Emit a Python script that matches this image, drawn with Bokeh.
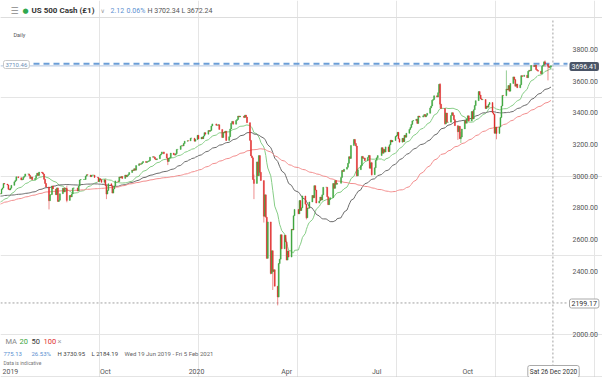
import pandas as pd
import numpy as np
from bokeh.plotting import figure
from bokeh.models import Range1d, FixedTicker, Span, Label, ColumnDataSource, NumeralTickFormatter, LinearAxis
from bokeh.embed import file_html
from bokeh.resources import INLINE

# ---------------- data (daily closes) ----------------
c_2019_01 = [2510, 2448, 2532, 2550, 2575, 2585, 2597, 2596, 2583, 2610, 2616, 2636, 2671, 2633, 2638, 2643, 2665, 2644, 2640, 2681, 2704]
c_2019_02 = [2707, 2724, 2737, 2732, 2706, 2708, 2709, 2744, 2754, 2746, 2776, 2780, 2784, 2775, 2793, 2796, 2793, 2792, 2784]
c_2019_03 = [2804, 2792, 2789, 2771, 2749, 2743, 2784, 2792, 2811, 2808, 2822, 2833, 2832, 2824, 2855, 2801, 2798, 2818, 2805, 2815, 2834]
c_2019_04 = [2867, 2868, 2873, 2879, 2892, 2895, 2878, 2888, 2888, 2907, 2905, 2908, 2900, 2905, 2907, 2934, 2927, 2926, 2940, 2943, 2946]
c_2019_05 = [2924, 2917, 2946, 2932, 2884, 2880, 2871, 2881, 2812, 2834, 2851, 2876, 2860, 2840, 2864, 2857, 2822, 2826, 2802, 2783, 2788, 2752]
c_2019_06 = [2744, 2803, 2826, 2843, 2873, 2886, 2885, 2879, 2891, 2887, 2889, 2917, 2926, 2954, 2950, 2945, 2917, 2913, 2924, 2942]
c_2019_07 = [2964, 2973, 2996, 2990, 2976, 2979, 2993, 3000, 3014, 3014, 3004, 2985, 2995, 2977, 2986, 3005, 3019, 3004, 3026, 3021, 3013, 2980]
c_2019_08 = [2954, 2932, 2845, 2882, 2884, 2938, 2919, 2883, 2926, 2840, 2848, 2889, 2924, 2900, 2924, 2922, 2847, 2878, 2869, 2888, 2924, 2926]
c_2019_09 = [2906, 2938, 2976, 2979, 2979, 2979, 3000, 3009, 3007, 2997, 3006, 3006, 3006, 2992, 2991, 2966, 2984, 2977, 2961, 2977]
c_2019_10 = [2940, 2887, 2910, 2952, 2938, 2893, 2919, 2938, 2970, 2966, 2995, 2990, 2998, 2986, 3007, 2996, 3004, 3010, 3023, 3039, 3036, 3047, 3038]
c_2019_11 = [3067, 3078, 3075, 3077, 3085, 3093, 3087, 3091, 3094, 3097, 3120, 3123, 3120, 3108, 3104, 3110, 3133, 3140, 3153, 3141]
c_2019_12 = [3114, 3093, 3113, 3117, 3146, 3136, 3133, 3142, 3169, 3169, 3191, 3192, 3191, 3206, 3221, 3224, 3223, 3240, 3240, 3221, 3231]
c_2020_01 = [3258, 3235, 3246, 3237, 3253, 3275, 3265, 3288, 3283, 3289, 3317, 3330, 3321, 3322, 3325, 3295, 3244, 3276, 3273, 3284, 3226]
c_2020_02 = [3249, 3298, 3334, 3346, 3328, 3352, 3358, 3380, 3374, 3380, 3370, 3386, 3373, 3338, 3226, 3128, 3116, 2979, 2954]
c_2020_03 = [3090, 3003, 3130, 3024, 2972, 2747, 2882, 2741, 2481, 2711, 2386, 2529, 2398, 2409, 2305, 2237, 2448, 2476, 2630, 2541, 2627, 2585]
c_2020_04 = [2470, 2527, 2489, 2664, 2660, 2750, 2790, 2762, 2846, 2783, 2800, 2875, 2823, 2737, 2799, 2798, 2837, 2878, 2863, 2940, 2912]
c_2020_05 = [2830, 2843, 2868, 2849, 2882, 2930, 2930, 2870, 2820, 2852, 2864, 2954, 2923, 2972, 2949, 2955, 2992, 3036, 3030, 3044]
c_2020_06 = [3056, 3081, 3123, 3112, 3194, 3232, 3207, 3190, 3002, 3041, 3067, 3125, 3113, 3115, 3098, 3118, 3131, 3050, 3084, 3009, 3053, 3100]
c_2020_07 = [3116, 3130, 3180, 3145, 3169, 3152, 3185, 3155, 3198, 3227, 3216, 3225, 3251, 3257, 3277, 3236, 3215, 3239, 3218, 3258, 3246, 3271]
c_2020_08 = [3295, 3307, 3327, 3349, 3351, 3360, 3333, 3380, 3373, 3373, 3381, 3389, 3375, 3385, 3397, 3431, 3443, 3479, 3484, 3508, 3500]
c_2020_09 = [3527, 3580, 3455, 3427, 3331, 3399, 3340, 3341, 3383, 3401, 3385, 3357, 3319, 3281, 3315, 3237, 3247, 3298, 3351, 3335, 3363]
c_2020_10 = [3381, 3348, 3408, 3361, 3419, 3446, 3477, 3534, 3512, 3489, 3483, 3484, 3427, 3443, 3436, 3453, 3465, 3401, 3391, 3271, 3310, 3270]
c_2020_11 = [3310, 3370, 3443, 3510, 3509, 3550, 3545, 3572, 3537, 3585, 3627, 3610, 3568, 3582, 3558, 3577, 3635, 3630, 3638, 3622]
c_2020_12 = [3662, 3669, 3666, 3699, 3692, 3702, 3673, 3668, 3663, 3647, 3694, 3701, 3722, 3709, 3695, 3687, 3690, 3696]

# notable intraday extremes (wicks)
wick_dates = ["2019-08-05", "2019-08-23", "2019-10-02", "2019-12-03", "2020-01-31", "2020-02-28",
              "2020-03-09", "2020-03-12", "2020-03-13", "2020-03-16", "2020-03-18", "2020-03-23",
              "2020-03-24", "2020-04-21", "2020-06-11", "2020-06-26", "2020-09-03", "2020-09-08",
              "2020-09-21", "2020-09-24", "2020-10-30", "2020-11-09", "2020-12-18", "2020-12-21",
              "2020-12-24"]
wick_highs = [2900, 2940, 2945, 3115, 3285, 3010, 2870, 2660, 2711, 2553, 2420, 2300,
              2450, 2810, 3125, 3090, 3588, 3420, 3320, 3280, 3310, 3668, 3731, 3705, 3702]
wick_lows = [2790, 2835, 2855, 3070, 3222, 2855, 2707, 2478, 2492, 2380, 2281, 2184,
             2235, 2727, 2999, 3004, 3430, 3325, 3229, 3209, 3233, 3505, 3690, 3605, 3672]

holidays = ["2019-01-01", "2019-01-21", "2019-02-18", "2019-04-19", "2019-05-27", "2019-07-04",
            "2019-09-02", "2019-11-28", "2019-12-25", "2020-01-01", "2020-01-20", "2020-02-17",
            "2020-04-10", "2020-05-25", "2020-07-03", "2020-09-07", "2020-11-26", "2020-12-25"]

view_start = "2019-06-17"
last_date = "2020-12-24"
crosshair_date = "2020-12-26"
crosshair_price = 2199.17
alert_price = 3710.46
last_price = 3696.41
ma_periods = [20, 50, 100]
ma_colors = ["#86cd86", "#6a6a6a", "#f28c8c"]

tick_dates = ["2019-06-27", "2019-10-01", "2020-01-01", "2020-04-01", "2020-07-01", "2020-10-01"]
tick_labels = ["2019", "Oct", "2020", "Apr", "Jul", "Oct"]
price_ticks = [2000, 2400, 2600, 2800, 3000, 3200, 3400, 3600, 3800]

# ---------------- build daily frame ----------------
months = [("2019-01", c_2019_01), ("2019-02", c_2019_02), ("2019-03", c_2019_03), ("2019-04", c_2019_04),
          ("2019-05", c_2019_05), ("2019-06", c_2019_06), ("2019-07", c_2019_07), ("2019-08", c_2019_08),
          ("2019-09", c_2019_09), ("2019-10", c_2019_10), ("2019-11", c_2019_11), ("2019-12", c_2019_12),
          ("2020-01", c_2020_01), ("2020-02", c_2020_02), ("2020-03", c_2020_03), ("2020-04", c_2020_04),
          ("2020-05", c_2020_05), ("2020-06", c_2020_06), ("2020-07", c_2020_07), ("2020-08", c_2020_08),
          ("2020-09", c_2020_09), ("2020-10", c_2020_10), ("2020-11", c_2020_11), ("2020-12", c_2020_12)]
hol = pd.to_datetime(holidays)
dates, closes = [], []
for ym, vals in months:
    s = pd.Timestamp(ym + "-01")
    e = min(s + pd.offsets.MonthEnd(0), pd.Timestamp(last_date))
    d = pd.bdate_range(s, e)
    d = d[~d.isin(hol)]
    n = min(len(d), len(vals))
    dates.extend(list(d[:n]))
    closes.extend(vals[:n])

df = pd.DataFrame({"date": dates, "close": np.array(closes, dtype=float)})
df["open"] = df["close"].shift(1)
for n in ma_periods:
    df[f"ma{n}"] = df["close"].rolling(n).mean()
df["btop"] = df[["open", "close"]].max(axis=1)
df["bbot"] = df[["open", "close"]].min(axis=1)
wk = pd.DataFrame({"date": pd.to_datetime(wick_dates), "wh": wick_highs, "wl": wick_lows})
df = df.merge(wk, on="date", how="left")
df["hi"] = df[["btop", "wh"]].max(axis=1)
df["lo"] = df[["bbot", "wl"]].min(axis=1)

t0 = pd.Timestamp(view_start)
df["x"] = (df["date"] - t0).dt.days.astype(float)
view = df[df["x"] >= -3].copy()
view["color"] = np.where(view["close"] >= view["open"], "#3ea63e", "#e0302f")
view = view.drop(columns=["date"])

# ---------------- figure (frame = whole canvas, axes at fixed locations) ----------------
W, H = 602, 377
PXDAY = 0.99
TOP_PRICE = 3800
TOP_PX = 49
PX_PER_UNIT = 285 / 1800.0
y_end = TOP_PRICE + TOP_PX / PX_PER_UNIT
y_start = y_end - H / PX_PER_UNIT


def px_to_price(py):
    return y_end - py / PX_PER_UNIT


def px_to_day(px):
    return px / PXDAY


p = figure(width=W, height=H, x_range=Range1d(0, W / PXDAY), y_range=Range1d(y_start, y_end),
           output_backend="svg", toolbar_location=None, title=None,
           x_axis_location=None, y_axis_location=None,
           min_border_left=0, min_border_right=0, min_border_top=0, min_border_bottom=0,
           background_fill_color="white", border_fill_color="white", outline_line_color=None)

FONT = "Roboto"
ya = LinearAxis(fixed_location=px_to_day(563), ticker=FixedTicker(ticks=price_ticks),
                formatter=NumeralTickFormatter(format="0.00"))
ya.axis_line_color = None
ya.major_tick_line_color = None
ya.minor_tick_line_color = None
ya.major_tick_out = 0
ya.major_tick_in = 0
ya.major_label_standoff = 9
ya.major_label_text_font = FONT
ya.major_label_text_font_size = "7px"
ya.major_label_text_color = "#555555"
p.add_layout(ya, "right")

tick_x = [int((pd.Timestamp(d) - t0).days) for d in tick_dates]
xa = LinearAxis(fixed_location=px_to_price(366), ticker=FixedTicker(ticks=tick_x))
xa.major_label_overrides = {tx: lab for tx, lab in zip(tick_x, tick_labels)}
xa.axis_line_color = None
xa.major_tick_line_color = None
xa.minor_tick_line_color = None
xa.major_tick_out = 0
xa.major_tick_in = 0
xa.major_label_standoff = 1
xa.major_label_text_font = FONT
xa.major_label_text_font_size = "7px"
xa.major_label_text_color = "#555555"
p.add_layout(xa, "below")

plot_right = px_to_day(567)

# header separator and bottom border
p.add_layout(Span(location=px_to_price(17), dimension="width", line_color="#dddddd", line_width=1))
p.add_layout(Span(location=px_to_price(376.5), dimension="width", line_color="#c8c8c8", line_width=1))

# crosshair
cross_x = float((pd.Timestamp(crosshair_date) - t0).days)
p.segment(x0=[cross_x], y0=[px_to_price(366)], x1=[cross_x], y1=[px_to_price(18)], line_color="#a0a0a0",
          line_width=1, line_dash="2 2")
p.segment(x0=[0], y0=[crosshair_price], x1=[plot_right], y1=[crosshair_price], line_color="#a0a0a0",
          line_width=1, line_dash="2 2")

# price lines
p.segment(x0=[0], y0=[last_price], x1=[plot_right], y1=[last_price], line_color="#aec3df", line_width=1)
p.segment(x0=[px_to_day(33)], y0=[alert_price], x1=[plot_right], y1=[alert_price], line_color="#6b9ed8",
          line_width=2, line_dash="6 4")

# moving averages
src = ColumnDataSource(view)
for n, col in zip(ma_periods, ma_colors):
    p.line("x", f"ma{n}", source=src, line_color=col, line_width=1)

# candles
p.segment(x0="x", y0="lo", x1="x", y1="hi", source=src, line_color="color", line_alpha=0.55, line_width=1)
p.vbar(x="x", width=1.0, top="btop", bottom="bbot", source=src,
       fill_color="color", line_color="color", line_width=0.4)


def lbl(x, y, text, size, color, align="left", bg=None, border=None, bold=False, font=FONT):
    kw = dict(x=x, y=H - y, x_units="screen", y_units="screen", text=text,
              text_font=font, text_font_size=f"{size}px", text_color=color,
              text_align=align, text_baseline="middle",
              text_font_style="bold" if bold else "normal")
    if bg is not None:
        kw.update(background_fill_color=bg, padding=2, border_radius=2)
    if border is not None:
        kw.update(border_line_color=border, border_line_width=1)
    p.add_layout(Label(**kw))


# header
lbl(10, 10, "☰", 9, "#888888", font="DejaVu Sans")
lbl(22, 10, "●", 7, "#2fa84f", font="DejaVu Sans")
lbl(31, 10, "US 500 Cash (£1)", 8, "#333333", bold=True)
lbl(100, 10, "∨", 6, "#999999", font="DejaVu Sans")
lbl(110, 10, "2.12", 7, "#5b8fd0")
lbl(126, 10, "0.06%", 7, "#5b8fd0")
lbl(147, 10, "H 3702.34  L 3672.24", 7, "#555555")
lbl(13, 34, "Daily", 5.5, "#555555")

# price tags
lbl(3, 64, "3710.46", 6, "#6d8fb8", bg="white", border="#c8c8c8")
lbl(569, 66, "3696.41", 7, "white", bg="#4a5466")
lbl(569, 303, "2199.17", 7, "#333333", bg="white", border="#aaaaaa")
lbl(553, 371, "Sat 26 Dec 2020", 6.5, "#333333", align="center", bg="white", border="#aaaaaa")

# legend
lbl(5, 341, "MA", 7.5, "#888888")
lbl(19, 341, "20", 7.5, "#3ea63e")
lbl(31, 341, "50", 7.5, "#333333")
lbl(43, 341, "100", 7.5, "#e0302f")
lbl(57, 341, "×", 7.5, "#999999")
lbl(3, 353, "775.13", 6, "#5b8fd0")
lbl(31, 353, "26.53%", 6, "#5b8fd0")
lbl(57, 353, "H 3730.95", 6, "#444444")
lbl(91, 353, "L 2184.19", 6, "#444444")
lbl(124, 353, "Wed 19 Jun 2019 - Fri 5 Feb 2021", 6, "#666666")
lbl(3, 362, "Data is indicative", 5, "#777777")

open("out.html", "w").write(file_html(p, INLINE))
